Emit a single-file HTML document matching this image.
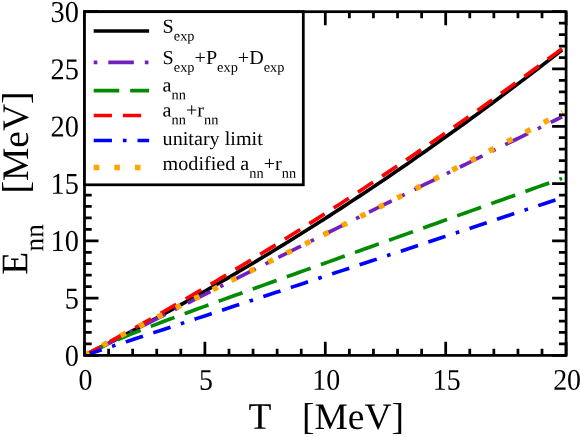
<!DOCTYPE html>
<html><head><meta charset="utf-8"><title>chart</title>
<style>html,body{margin:0;padding:0;background:#fff;}body{width:581px;height:437px;position:relative;overflow:hidden;font-family:"Liberation Serif",serif;}</style>
</head><body>
<svg width="581" height="437" viewBox="0 0 581 437" style="position:absolute;left:0;top:0;will-change:transform">
<rect x="0" y="0" width="581" height="437" fill="#fff"/>
<defs><clipPath id="pc"><rect x="84.50" y="11.69" width="481.60" height="343.71"/></clipPath></defs>
<g clip-path="url(#pc)">
<polyline points="84.50,355.40 90.47,352.42 96.44,349.42 102.41,346.40 108.38,343.36 114.34,340.30 120.31,337.21 126.28,334.11 132.25,330.98 138.22,327.83 144.19,324.66 150.16,321.47 156.13,318.26 162.09,315.02 168.06,311.77 174.03,308.49 180.00,305.20 185.97,301.88 191.94,298.54 197.91,295.18 203.88,291.79 209.85,288.39 215.81,284.97 221.78,281.52 227.75,278.05 233.72,274.56 239.69,271.05 245.66,267.52 251.63,263.97 257.60,260.40 263.56,256.80 269.53,253.19 275.50,249.55 281.47,245.89 287.44,242.21 293.41,238.51 299.38,234.79 305.35,231.04 311.32,227.28 317.28,223.49 323.25,219.68 329.22,215.86 335.19,212.01 341.16,208.13 347.13,204.24 353.10,200.33 359.07,196.39 365.04,192.44 371.00,188.46 376.97,184.46 382.94,180.44 388.91,176.40 394.88,172.34 400.85,168.25 406.82,164.15 412.79,160.02 418.75,155.87 424.72,151.71 430.69,147.52 436.66,143.30 442.63,139.07 448.60,134.82 454.57,130.54 460.54,126.25 466.51,121.93 472.47,117.59 478.44,113.23 484.41,108.85 490.38,104.45 496.35,100.02 502.32,95.58 508.29,91.11 514.26,86.62 520.22,82.11 526.19,77.58 532.16,73.03 538.13,68.46 544.10,63.86 550.07,59.25 556.04,54.61 562.01,49.96" fill="none" stroke="#000000" stroke-width="3.65" stroke-linejoin="round"/>
<polyline points="84.50,355.40 90.47,352.36 96.44,349.33 102.41,346.29 108.38,343.26 114.34,340.22 120.31,337.19 126.28,334.16 132.25,331.14 138.22,328.11 144.19,325.08 150.16,322.06 156.13,319.04 162.09,316.02 168.06,313.00 174.03,309.98 180.00,306.96 185.97,303.95 191.94,300.93 197.91,297.92 203.88,294.91 209.85,291.90 215.81,288.89 221.78,285.88 227.75,282.88 233.72,279.87 239.69,276.87 245.66,273.87 251.63,270.87 257.60,267.87 263.56,264.87 269.53,261.88 275.50,258.88 281.47,255.89 287.44,252.90 293.41,249.91 299.38,246.92 305.35,243.93 311.32,240.95 317.28,237.96 323.25,234.98 329.22,232.00 335.19,229.02 341.16,226.04 347.13,223.06 353.10,220.08 359.07,217.11 365.04,214.14 371.00,211.16 376.97,208.19 382.94,205.22 388.91,202.26 394.88,199.29 400.85,196.33 406.82,193.36 412.79,190.40 418.75,187.44 424.72,184.48 430.69,181.52 436.66,178.57 442.63,175.61 448.60,172.66 454.57,169.71 460.54,166.76 466.51,163.81 472.47,160.86 478.44,157.91 484.41,154.97 490.38,152.02 496.35,149.08 502.32,146.14 508.29,143.20 514.26,140.26 520.22,137.33 526.19,134.39 532.16,131.46 538.13,128.52 544.10,125.59 550.07,122.66 556.04,119.74 562.01,116.81" fill="none" stroke="#7221bc" stroke-width="3.65" stroke-dasharray="3.620,10.860,25.340,10.860" stroke-linejoin="round"/>
<polyline points="84.50,355.40 90.47,352.29 96.44,349.34 102.41,346.51 108.38,343.79 114.34,341.16 120.31,338.60 126.28,336.11 132.25,333.68 138.22,331.29 144.19,328.94 150.16,326.62 156.13,324.33 162.09,322.07 168.06,319.82 174.03,317.60 180.00,315.38 185.97,313.18 191.94,310.99 197.91,308.81 203.88,306.64 209.85,304.47 215.81,302.30 221.78,300.15 227.75,297.99 233.72,295.84 239.69,293.69 245.66,291.54 251.63,289.40 257.60,287.26 263.56,285.11 269.53,282.97 275.50,280.83 281.47,278.70 287.44,276.56 293.41,274.42 299.38,272.28 305.35,270.15 311.32,268.01 317.28,265.87 323.25,263.74 329.22,261.60 335.19,259.47 341.16,257.33 347.13,255.20 353.10,253.06 359.07,250.93 365.04,248.79 371.00,246.66 376.97,244.53 382.94,242.39 388.91,240.26 394.88,238.12 400.85,235.99 406.82,233.85 412.79,231.72 418.75,229.58 424.72,227.45 430.69,225.32 436.66,223.18 442.63,221.05 448.60,218.91 454.57,216.78 460.54,214.64 466.51,212.51 472.47,210.38 478.44,208.24 484.41,206.11 490.38,203.97 496.35,201.84 502.32,199.71 508.29,197.57 514.26,195.44 520.22,193.30 526.19,191.17 532.16,189.03 538.13,186.90 544.10,184.77 550.07,182.63 556.04,180.50 562.01,178.36" fill="none" stroke="#008b00" stroke-width="3.65" stroke-dasharray="25.340,10.860" stroke-linejoin="round"/>
<polyline points="84.50,355.40 90.47,352.19 96.44,348.97 102.41,345.74 108.38,342.48 114.34,339.21 120.31,335.93 126.28,332.63 132.25,329.31 138.22,325.98 144.19,322.63 150.16,319.26 156.13,315.88 162.09,312.49 168.06,309.07 174.03,305.64 180.00,302.20 185.97,298.74 191.94,295.26 197.91,291.77 203.88,288.26 209.85,284.74 215.81,281.20 221.78,277.64 227.75,274.07 233.72,270.49 239.69,266.88 245.66,263.26 251.63,259.63 257.60,255.98 263.56,252.31 269.53,248.63 275.50,244.93 281.47,241.21 287.44,237.48 293.41,233.74 299.38,229.97 305.35,226.19 311.32,222.40 317.28,218.59 323.25,214.76 329.22,210.92 335.19,207.06 341.16,203.19 347.13,199.30 353.10,195.39 359.07,191.47 365.04,187.54 371.00,183.58 376.97,179.61 382.94,175.63 388.91,171.63 394.88,167.61 400.85,163.58 406.82,159.53 412.79,155.46 418.75,151.38 424.72,147.29 430.69,143.17 436.66,139.04 442.63,134.90 448.60,130.74 454.57,126.56 460.54,122.37 466.51,118.16 472.47,113.94 478.44,109.70 484.41,105.44 490.38,101.17 496.35,96.88 502.32,92.58 508.29,88.26 514.26,83.93 520.22,79.58 526.19,75.21 532.16,70.83 538.13,66.43 544.10,62.01 550.07,57.58 556.04,53.13 562.01,48.67" fill="none" stroke="#ff0000" stroke-width="3.65" stroke-dasharray="18.100,10.860" stroke-linejoin="round"/>
<polyline points="84.50,355.40 90.47,353.44 96.44,351.48 102.41,349.52 108.38,347.56 114.34,345.60 120.31,343.64 126.28,341.68 132.25,339.71 138.22,337.75 144.19,335.79 150.16,333.83 156.13,331.87 162.09,329.90 168.06,327.94 174.03,325.98 180.00,324.01 185.97,322.05 191.94,320.08 197.91,318.12 203.88,316.15 209.85,314.19 215.81,312.22 221.78,310.26 227.75,308.29 233.72,306.32 239.69,304.36 245.66,302.39 251.63,300.42 257.60,298.46 263.56,296.49 269.53,294.52 275.50,292.55 281.47,290.58 287.44,288.61 293.41,286.64 299.38,284.67 305.35,282.70 311.32,280.73 317.28,278.76 323.25,276.79 329.22,274.82 335.19,272.85 341.16,270.88 347.13,268.91 353.10,266.94 359.07,264.96 365.04,262.99 371.00,261.02 376.97,259.04 382.94,257.07 388.91,255.10 394.88,253.12 400.85,251.15 406.82,249.17 412.79,247.20 418.75,245.22 424.72,243.25 430.69,241.27 436.66,239.30 442.63,237.32 448.60,235.34 454.57,233.37 460.54,231.39 466.51,229.41 472.47,227.44 478.44,225.46 484.41,223.48 490.38,221.50 496.35,219.52 502.32,217.54 508.29,215.56 514.26,213.58 520.22,211.60 526.19,209.62 532.16,207.64 538.13,205.66 544.10,203.68 550.07,201.70 556.04,199.72 562.01,197.74" fill="none" stroke="#0000ff" stroke-width="3.65" stroke-dasharray="18.100,10.860,3.620,10.860,18.100,10.860" stroke-linejoin="round"/>
<polyline points="84.50,355.40 90.48,351.94 96.46,348.58 102.44,345.32 108.42,342.12 114.40,338.97 120.38,335.87 126.36,332.80 132.34,329.75 138.32,326.72 144.30,323.71 150.28,320.71 156.26,317.72 162.24,314.73 168.22,311.75 174.20,308.78 180.18,305.81 186.16,302.84 192.14,299.87 198.13,296.91 204.11,293.94 210.09,290.98 216.07,288.02 222.05,285.06 228.03,282.09 234.01,279.13 239.99,276.17 245.97,273.21 251.95,270.25 257.93,267.29 263.91,264.34 269.89,261.38 275.87,258.42 281.85,255.46 287.83,252.50 293.81,249.54 299.79,246.58 305.77,243.62 311.75,240.66 317.73,237.70 323.71,234.74 329.69,231.78 335.67,228.82 341.65,225.85 347.63,222.87 353.61,219.89 359.59,216.91 365.57,213.92 371.55,210.92 377.53,207.92 383.51,204.92 389.49,201.91 395.47,198.89 401.45,195.87 407.43,192.85 413.41,189.82 419.40,186.78 425.38,183.74 431.36,180.70 437.34,177.65 443.32,174.60 449.30,171.54 455.28,168.47 461.26,165.40 467.24,162.33 473.22,159.25 479.20,156.17 485.18,153.08 491.16,149.98 497.14,146.88 503.12,143.78 509.10,140.67 515.08,137.56 521.06,134.44 527.04,131.32 533.02,128.19 539.00,125.05 544.98,121.92 550.96,118.77 556.94,115.62 562.92,112.47" fill="none" stroke="#ffa500" stroke-width="5.50" stroke-dasharray="5.600,15.000" stroke-linejoin="round"/>
</g>
<rect x="84.50" y="11.69" width="481.60" height="343.71" fill="none" stroke="#000" stroke-width="2.75"/>
<path d="M84.50 355.40v-13.60M84.50 11.69v13.60M108.58 355.40v-6.60M108.58 11.69v6.60M132.66 355.40v-6.60M132.66 11.69v6.60M156.74 355.40v-6.60M156.74 11.69v6.60M180.82 355.40v-6.60M180.82 11.69v6.60M204.90 355.40v-13.60M204.90 11.69v13.60M228.98 355.40v-6.60M228.98 11.69v6.60M253.06 355.40v-6.60M253.06 11.69v6.60M277.14 355.40v-6.60M277.14 11.69v6.60M301.22 355.40v-6.60M301.22 11.69v6.60M325.30 355.40v-13.60M325.30 11.69v13.60M349.38 355.40v-6.60M349.38 11.69v6.60M373.46 355.40v-6.60M373.46 11.69v6.60M397.54 355.40v-6.60M397.54 11.69v6.60M421.62 355.40v-6.60M421.62 11.69v6.60M445.70 355.40v-13.60M445.70 11.69v13.60M469.78 355.40v-6.60M469.78 11.69v6.60M493.86 355.40v-6.60M493.86 11.69v6.60M517.94 355.40v-6.60M517.94 11.69v6.60M542.02 355.40v-6.60M542.02 11.69v6.60M566.10 355.40v-13.60M566.10 11.69v13.60M84.50 355.40h14.00M566.10 355.40h-14.00M84.50 343.94h7.20M566.10 343.94h-7.20M84.50 332.49h7.20M566.10 332.49h-7.20M84.50 321.03h7.20M566.10 321.03h-7.20M84.50 309.57h7.20M566.10 309.57h-7.20M84.50 298.11h14.00M566.10 298.11h-14.00M84.50 286.66h7.20M566.10 286.66h-7.20M84.50 275.20h7.20M566.10 275.20h-7.20M84.50 263.74h7.20M566.10 263.74h-7.20M84.50 252.29h7.20M566.10 252.29h-7.20M84.50 240.83h14.00M566.10 240.83h-14.00M84.50 229.37h7.20M566.10 229.37h-7.20M84.50 217.92h7.20M566.10 217.92h-7.20M84.50 206.46h7.20M566.10 206.46h-7.20M84.50 195.00h7.20M566.10 195.00h-7.20M84.50 183.54h14.00M566.10 183.54h-14.00M84.50 172.09h7.20M566.10 172.09h-7.20M84.50 160.63h7.20M566.10 160.63h-7.20M84.50 149.17h7.20M566.10 149.17h-7.20M84.50 137.72h7.20M566.10 137.72h-7.20M84.50 126.26h14.00M566.10 126.26h-14.00M84.50 114.80h7.20M566.10 114.80h-7.20M84.50 103.35h7.20M566.10 103.35h-7.20M84.50 91.89h7.20M566.10 91.89h-7.20M84.50 80.43h7.20M566.10 80.43h-7.20M84.50 68.97h14.00M566.10 68.97h-14.00M84.50 57.52h7.20M566.10 57.52h-7.20M84.50 46.06h7.20M566.10 46.06h-7.20M84.50 34.60h7.20M566.10 34.60h-7.20M84.50 23.15h7.20M566.10 23.15h-7.20M84.50 11.69h14.00M566.10 11.69h-14.00" stroke="#000" stroke-width="2.75" fill="none"/>
<rect x="84.50" y="11.69" width="218.80" height="173.11" fill="#fff" stroke="#000" stroke-width="2.75"/>
<line x1="93.70" y1="31.00" x2="149.10" y2="31.00" stroke="#000000" stroke-width="3.65"/>
<line x1="93.70" y1="62.40" x2="149.10" y2="62.40" stroke="#7221bc" stroke-width="3.65" stroke-dasharray="3.65,10.95,25.55,10.95"/>
<line x1="93.70" y1="90.55" x2="149.10" y2="90.55" stroke="#008b00" stroke-width="3.65" stroke-dasharray="25.55,10.95"/>
<line x1="93.70" y1="115.45" x2="149.10" y2="115.45" stroke="#ff0000" stroke-width="3.65" stroke-dasharray="18.25,10.95"/>
<line x1="93.70" y1="140.45" x2="149.10" y2="140.45" stroke="#0000ff" stroke-width="3.65" stroke-dasharray="18.25,10.95,3.65,10.95,18.25,10.95"/>
<line x1="93.70" y1="167.60" x2="149.10" y2="167.60" stroke="#ffa500" stroke-width="5.50" stroke-dasharray="5.60,15.00"/>
<text transform="translate(85.50,389.80) rotate(0.030) scale(0.9300,1)" font-size="30.00" text-anchor="middle" font-family="Liberation Serif, serif" xml:space="preserve" style="font-kerning:none;white-space:pre">0</text>
<text transform="translate(205.90,389.80) rotate(0.030) scale(0.9300,1)" font-size="30.00" text-anchor="middle" font-family="Liberation Serif, serif" xml:space="preserve" style="font-kerning:none;white-space:pre">5</text>
<text transform="translate(326.30,389.80) rotate(0.030) scale(0.9300,1)" font-size="30.00" text-anchor="middle" font-family="Liberation Serif, serif" xml:space="preserve" style="font-kerning:none;white-space:pre">10</text>
<text transform="translate(446.70,389.80) rotate(0.030) scale(0.9300,1)" font-size="30.00" text-anchor="middle" font-family="Liberation Serif, serif" xml:space="preserve" style="font-kerning:none;white-space:pre">15</text>
<text transform="translate(567.10,389.80) rotate(0.030) scale(0.9300,1)" font-size="30.00" text-anchor="middle" font-family="Liberation Serif, serif" xml:space="preserve" style="font-kerning:none;white-space:pre">20</text>
<text transform="translate(78.80,365.70) rotate(0.030) scale(0.9350,1)" font-size="30.30" text-anchor="end" font-family="Liberation Serif, serif" xml:space="preserve" style="font-kerning:none;white-space:pre">0</text>
<text transform="translate(78.80,308.41) rotate(0.030) scale(0.9350,1)" font-size="30.30" text-anchor="end" font-family="Liberation Serif, serif" xml:space="preserve" style="font-kerning:none;white-space:pre">5</text>
<text transform="translate(78.80,251.13) rotate(0.030) scale(0.9350,1)" font-size="30.30" text-anchor="end" font-family="Liberation Serif, serif" xml:space="preserve" style="font-kerning:none;white-space:pre">10</text>
<text transform="translate(78.80,193.84) rotate(0.030) scale(0.9350,1)" font-size="30.30" text-anchor="end" font-family="Liberation Serif, serif" xml:space="preserve" style="font-kerning:none;white-space:pre">15</text>
<text transform="translate(78.80,136.56) rotate(0.030) scale(0.9350,1)" font-size="30.30" text-anchor="end" font-family="Liberation Serif, serif" xml:space="preserve" style="font-kerning:none;white-space:pre">20</text>
<text transform="translate(78.80,79.27) rotate(0.030) scale(0.9350,1)" font-size="30.30" text-anchor="end" font-family="Liberation Serif, serif" xml:space="preserve" style="font-kerning:none;white-space:pre">25</text>
<text transform="translate(78.80,21.99) rotate(0.030) scale(0.9350,1)" font-size="30.30" text-anchor="end" font-family="Liberation Serif, serif" xml:space="preserve" style="font-kerning:none;white-space:pre">30</text>
<text transform="translate(248.40,428.70) rotate(0.030) scale(1.0000,1)" font-size="37.50" text-anchor="start" font-family="Liberation Serif, serif" xml:space="preserve" style="font-kerning:none;white-space:pre">T</text>
<text transform="translate(301.90,428.90) rotate(0.030) scale(1.0000,1)" font-size="37.50" text-anchor="start" font-family="Liberation Serif, serif" xml:space="preserve" style="font-kerning:none;white-space:pre">[MeV]</text>
<text transform="translate(27.30,274.80) rotate(-89.970) scale(1.0000,1)" font-size="37.50" text-anchor="start" font-family="Liberation Serif, serif" xml:space="preserve" style="font-kerning:none;white-space:pre">E<tspan font-size="27.2" dy="15.9" dx="0.5">nn</tspan></text>
<text transform="translate(27.90,193.60) rotate(-89.970) scale(1.0000,1)" font-size="37.50" text-anchor="start" font-family="Liberation Serif, serif" xml:space="preserve" style="font-kerning:none;white-space:pre">[MeV]</text>
<text transform="translate(162.60,32.70) rotate(0.030) scale(1.0180,1)" font-size="19.80" text-anchor="start" font-family="Liberation Serif, serif" xml:space="preserve" style="font-kerning:none;white-space:pre"><tspan font-size="19.8" dy="0.0">S</tspan><tspan font-size="14.1" dy="7.8">exp</tspan></text>
<text transform="translate(162.60,63.90) rotate(0.030) scale(1.0180,1)" font-size="19.80" text-anchor="start" font-family="Liberation Serif, serif" xml:space="preserve" style="font-kerning:none;white-space:pre"><tspan font-size="19.8" dy="0.0">S</tspan><tspan font-size="14.1" dy="7.8">exp</tspan><tspan font-size="19.8" dy="-7.8">+P</tspan><tspan font-size="14.1" dy="7.8">exp</tspan><tspan font-size="19.8" dy="-7.8">+D</tspan><tspan font-size="14.1" dy="7.8">exp</tspan></text>
<text transform="translate(162.60,91.50) rotate(0.030) scale(1.0180,1)" font-size="19.80" text-anchor="start" font-family="Liberation Serif, serif" xml:space="preserve" style="font-kerning:none;white-space:pre"><tspan font-size="19.8" dy="0.0">a</tspan><tspan font-size="14.1" dy="7.8">nn</tspan></text>
<text transform="translate(162.60,116.50) rotate(0.030) scale(1.0180,1)" font-size="19.80" text-anchor="start" font-family="Liberation Serif, serif" xml:space="preserve" style="font-kerning:none;white-space:pre"><tspan font-size="19.8" dy="0.0">a</tspan><tspan font-size="14.1" dy="7.8">nn</tspan><tspan font-size="19.8" dy="-7.8">+r</tspan><tspan font-size="14.1" dy="7.8">nn</tspan></text>
<text transform="translate(162.60,145.00) rotate(0.030) scale(1.0180,1)" font-size="19.80" text-anchor="start" font-family="Liberation Serif, serif" xml:space="preserve" style="font-kerning:none;white-space:pre"><tspan font-size="19.8" dy="0.0">unitary limit</tspan></text>
<text transform="translate(162.60,170.00) rotate(0.030) scale(1.0180,1)" font-size="19.80" text-anchor="start" font-family="Liberation Serif, serif" xml:space="preserve" style="font-kerning:none;white-space:pre"><tspan font-size="19.8" dy="0.0">modified a</tspan><tspan font-size="14.1" dy="7.8">nn</tspan><tspan font-size="19.8" dy="-7.8">+r</tspan><tspan font-size="14.1" dy="7.8">nn</tspan></text>
</svg>
</body></html>
